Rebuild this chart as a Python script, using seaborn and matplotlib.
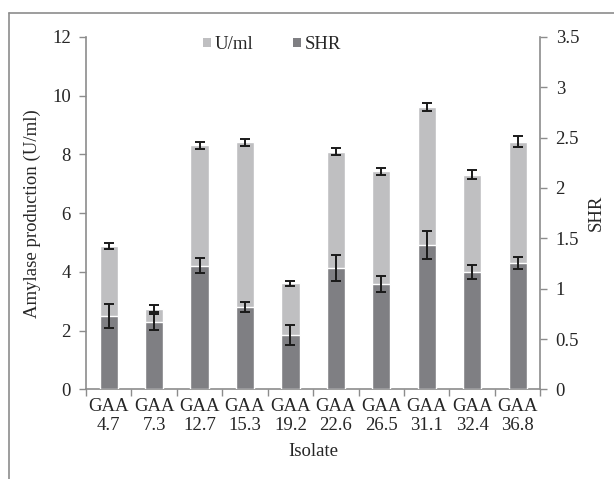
import matplotlib
matplotlib.use("Agg")
import matplotlib.pyplot as plt
import seaborn as sns
import pandas as pd
import numpy as np
from matplotlib.lines import Line2D
from matplotlib.patches import Patch

isolates = ["GAA\n4.7", "GAA\n7.3", "GAA\n12.7", "GAA\n15.3", "GAA\n19.2",
            "GAA\n22.6", "GAA\n26.5", "GAA\n31.1", "GAA\n32.4", "GAA\n36.8"]
units_ml = [4.88, 2.75, 8.31, 8.41, 3.61, 8.09, 7.42, 9.61, 7.31, 8.43]
units_err = [0.10, 0.12, 0.12, 0.11, 0.08, 0.12, 0.11, 0.14, 0.15, 0.18]
shr = [0.73, 0.67, 1.23, 0.82, 0.54, 1.205, 1.05, 1.43, 1.165, 1.255]
shr_err = [0.12, 0.08, 0.07, 0.05, 0.10, 0.13, 0.08, 0.14, 0.07, 0.06]

LIGHT = "#bfbfc1"
DARK = "#7f7f83"
AXIS = "#8c8c8c"

sns.set_theme(style="white")
plt.rcParams["font.family"] = ["Liberation Serif", "DejaVu Serif"]
plt.rcParams["font.size"] = 13.5

df = pd.DataFrame({"Isolate": isolates, "U/ml": units_ml, "SHR": shr})

fig = plt.figure(figsize=(6.14, 4.79), dpi=100)
ax = fig.add_axes([0.140, 0.187, 0.740, 0.736])
ax2 = ax.twinx()

sns.barplot(data=df, x="Isolate", y="U/ml", order=isolates, color=LIGHT,
            saturation=1, width=0.4, ax=ax, errorbar=None)
sns.barplot(data=df, x="Isolate", y="SHR", order=isolates, color=DARK,
            saturation=1, width=0.4, ax=ax2, errorbar=None)

pos = np.arange(len(isolates))
ax.errorbar(pos, units_ml, yerr=units_err, fmt="none", ecolor="#1a1a1a",
            elinewidth=1.4, capsize=3.5, capthick=1.4, zorder=5)
ax2.errorbar(pos, shr, yerr=shr_err, fmt="none", ecolor="#1a1a1a",
             elinewidth=1.4, capsize=3.5, capthick=1.4, zorder=5)

ax.set_ylim(0, 12)
ax2.set_ylim(0, 3.5)
ax.set_xlim(-0.5, len(isolates) - 0.5)
ax.set_yticks(np.arange(0, 13, 2))
ax2.set_yticks(np.arange(0, 3.51, 0.5))
ax2.set_yticklabels(["0", "0.5", "1", "1.5", "2", "2.5", "3", "3.5"])

# category labels centred, tick marks on category boundaries
ax.set_xticks(pos)
ax.set_xticks(np.arange(-0.5, len(isolates)), minor=True)
ax.tick_params(axis="x", which="major", length=0, pad=6, labelsize=13.5)
ax.tick_params(axis="x", which="minor", length=5, width=1, color=AXIS,
               direction="out", bottom=True)
ax.tick_params(axis="y", length=5, width=1, color=AXIS, direction="out",
               left=True, pad=6, labelsize=13.5)
ax2.tick_params(axis="y", length=5, width=1, color=AXIS, direction="out",
                right=True, pad=6, labelsize=13.5)

for a in (ax, ax2):
    a.spines["top"].set_visible(False)
    for side in ("left", "right", "bottom"):
        a.spines[side].set_color(AXIS)
        a.spines[side].set_linewidth(1.2)
ax.spines["right"].set_visible(False)
ax2.spines["left"].set_visible(False)
ax2.spines["bottom"].set_visible(False)

ax.set_xlabel("Isolate", fontsize=13.5, labelpad=6)
ax.set_ylabel("Amylase production (U/ml)", fontsize=13.5, labelpad=8)
ax2.set_ylabel("SHR", fontsize=13.5, labelpad=6)

handles = [Patch(facecolor=LIGHT, edgecolor="none", label="U/ml"),
           Patch(facecolor=DARK, edgecolor="none", label="SHR")]
ax.legend(handles=handles, loc="upper center", bbox_to_anchor=(0.41, 1.05),
          ncol=2, frameon=False, fontsize=13.5, handlelength=0.42,
          handleheight=0.42, handletextpad=0.22, columnspacing=2.1)

# chart-area border (left and top edges)
fig.add_artist(Line2D([9 / 614, 9 / 614], [0, 1 - 13 / 479],
                      transform=fig.transFigure, color=AXIS, lw=1.2))
fig.add_artist(Line2D([9 / 614, 1], [1 - 13 / 479, 1 - 13 / 479],
                      transform=fig.transFigure, color=AXIS, lw=1.2))

fig.savefig("out.png", dpi=100)
